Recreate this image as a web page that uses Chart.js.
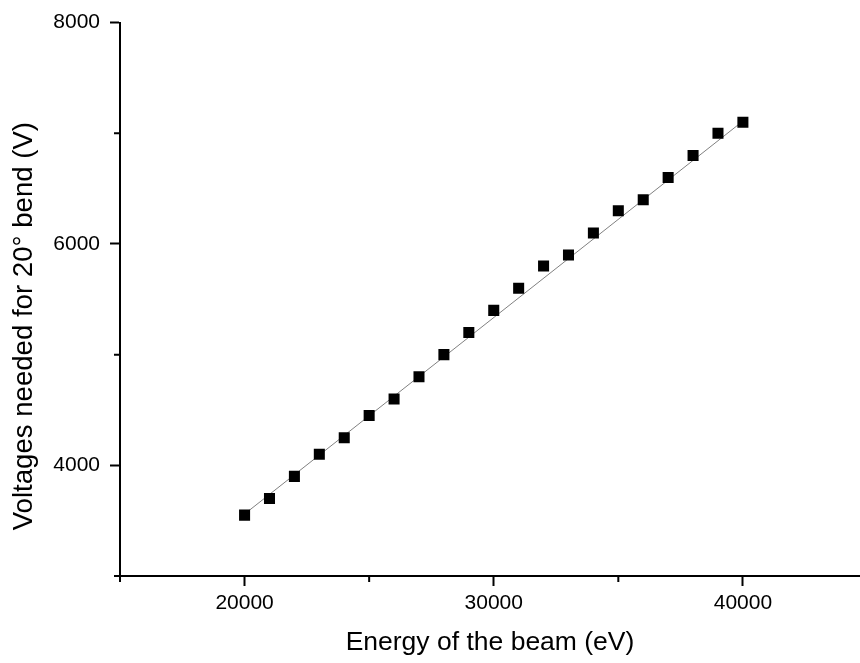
<!DOCTYPE html>
<html>
<head>
<meta charset="utf-8">
<script src="https://cdn.jsdelivr.net/npm/chart.js@4"></script>
<style>
  html, body { margin: 0; padding: 0; background: #fff; }
  #wrap { width: 860px; height: 663px; }
</style>
</head>
<body>
<div id="wrap"><canvas id="beamChart" width="860" height="663"></canvas></div>
<script>
const energy  = [20000, 21000, 22000, 23000, 24000, 25000, 26000, 27000, 28000, 29000, 30000,
                 31000, 32000, 33000, 34000, 35000, 36000, 37000, 38000, 39000, 40000];
const voltage = [3550, 3700, 3900, 4100, 4250, 4450, 4600, 4800, 5000, 5200, 5400,
                 5600, 5800, 5900, 6100, 6300, 6400, 6600, 6800, 7000, 7100];

// fitted line, end points
const fitX    = [20000, 40000];
const fitY    = [3560, 7110];

const xTicks      = [20000, 30000, 40000];
const yTicks      = [4000, 6000, 8000];
const xMinorTicks = [15000, 25000, 35000];
const yMinorTicks = [3000, 5000, 7000];

const minorTicks = 
{
  id: 'minorTicks',
  afterDraw(chart) 
  {
    const c  = chart.ctx;
    const xs = chart.scales.x, ys = chart.scales.y;
    c.save();
    c.strokeStyle = '#000';
    c.lineWidth   = 2;
    c.beginPath();
    xMinorTicks.forEach(v => { const px = xs.getPixelForValue(v); c.moveTo(px, ys.bottom); c.lineTo(px, ys.bottom + 6); });
    yMinorTicks.forEach(v => { const py = ys.getPixelForValue(v); c.moveTo(xs.left, py); c.lineTo(xs.left - 6, py); });
    c.stroke();
    c.restore();
  }
};

const tickFont  = { family: 'Liberation Sans, Arial, sans-serif', size: 21 };
const titleFont = { family: 'Liberation Sans, Arial, sans-serif', size: 26.5 };

// the y title sits a bit below the middle in the original; trailing no-break spaces push it down
const yTitle = 'Voltages needed for 20° bend (V)' + '\u00A0'.repeat(7);

const ctx = document.getElementById('beamChart').getContext('2d');
new Chart(ctx, 
{
  type: 'scatter',
  data: 
  {
    datasets: 
    [
      { 
        label: 'Messwerte', 
        data: energy.map((e, i) => ({ x: e, y: voltage[i] })),
        pointStyle: 'rect', pointRadius: 7.8, pointHoverRadius: 7.8,
        backgroundColor: '#000', borderColor: '#000', borderWidth: 0, order: 1
      },
      { 
        label: 'Fit', 
        data: fitX.map((e, i) => ({ x: e, y: fitY[i] })),
        showLine: true, pointRadius: 0, borderColor: '#808080', borderWidth: 1, order: 2
      }
    ]
  },
  options: 
  {
    responsive: false,
    animation: false,
    layout: { autoPadding: false, padding: { top: 20, right: 0, left: 0, bottom: 0 } },
    plugins: { legend: { display: false }, tooltip: { enabled: false } },
    scales: 
    {
      x: 
      {
        type: 'linear', position: 'bottom', min: 15000, max: 44700,
        afterBuildTicks: s => { s.ticks = xTicks.map(v => ({ value: v })); },
        afterFit: s => { s.height = 87; },
        grid:   { drawOnChartArea: false, drawTicks: true, tickLength: 10, tickColor: '#000', tickWidth: 2 },
        border: { color: '#000', width: 2 },
        ticks:  { color: '#000', font: tickFont, padding: 5, maxRotation: 0, callback: v => String(v) },
        title:  { display: true, text: 'Energy of the beam (eV)', color: '#000', font: titleFont, padding: { top: 0, bottom: 4 } }
      },
      y: 
      {
        type: 'linear', position: 'left', min: 3000, max: 8000,
        afterBuildTicks: s => { s.ticks = yTicks.map(v => ({ value: v })); },
        afterFit: s => { s.width = 120; },
        grid:   { drawOnChartArea: false, drawTicks: true, tickLength: 10, tickColor: '#000', tickWidth: 2 },
        border: { color: '#000', width: 2 },
        ticks:  { color: '#000', font: tickFont, padding: 10, callback: v => String(v) },
        title:  { display: true, text: yTitle, color: '#000', font: { family: titleFont.family, size: 27.6 }, padding: { top: 8, bottom: 0 } }
      }
    }
  },
  plugins: [minorTicks]
});
</script>
</body>
</html>
